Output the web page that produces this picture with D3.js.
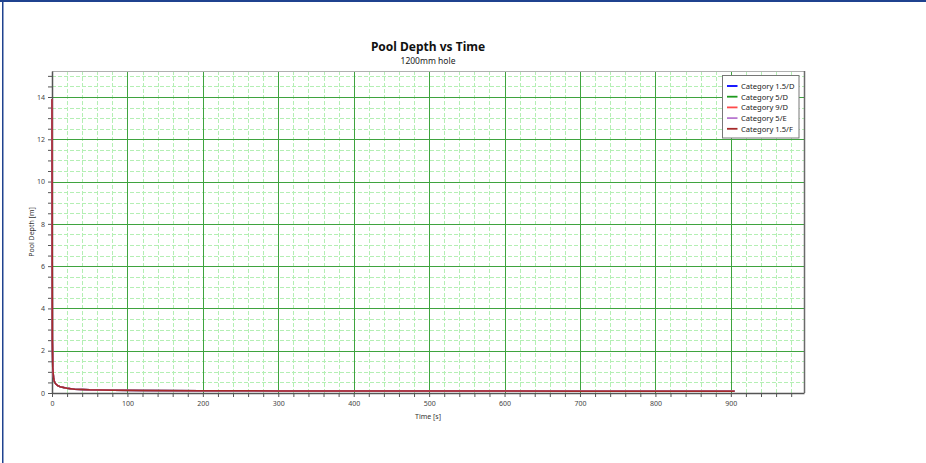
<!DOCTYPE html>
<html><head><meta charset="utf-8">
<script src="https://cdn.jsdelivr.net/npm/d3@7"></script>
<style>
html,body{margin:0;padding:0;background:#fff;}
text{font-family:"Noto Sans","Open Sans",sans-serif;}
</style></head>
<body><svg id="chart" width="926" height="463"></svg>
<script>
// ---- data ----
const seriesNames = ["Category 1.5/D","Category 5/D","Category 9/D","Category 5/E","Category 1.5/F"];
const seriesColors = ["#0000FF","#1E9A1E","#FF4A4A","#B878D0","#A52A2A"];
const timeS = [0, 0.5, 1, 2, 3, 5, 8, 12, 20, 30, 50, 80, 120, 200, 300, 400, 500, 600, 700, 800, 905];
const depth15D = [13.9, 2.5, 1.2, 0.75, 0.55, 0.42, 0.34, 0.28, 0.22, 0.18, 0.15, 0.13, 0.12, 0.11, 0.1, 0.095, 0.09, 0.09, 0.085, 0.085, 0.08];
const depth5D  = [13.9, 2.5, 1.2, 0.75, 0.55, 0.42, 0.34, 0.28, 0.22, 0.18, 0.15, 0.13, 0.12, 0.11, 0.1, 0.095, 0.09, 0.09, 0.085, 0.085, 0.08];
const depth9D  = [13.9, 2.5, 1.2, 0.75, 0.55, 0.42, 0.34, 0.28, 0.22, 0.18, 0.15, 0.13, 0.12, 0.11, 0.1, 0.095, 0.09, 0.09, 0.085, 0.085, 0.08];
const depth5E  = [13.9, 2.5, 1.2, 0.75, 0.55, 0.42, 0.34, 0.28, 0.22, 0.18, 0.15, 0.13, 0.12, 0.11, 0.1, 0.095, 0.09, 0.09, 0.085, 0.085, 0.08];
const depth15F = [13.9, 2.5, 1.2, 0.75, 0.55, 0.42, 0.34, 0.28, 0.22, 0.18, 0.15, 0.13, 0.12, 0.11, 0.1, 0.095, 0.09, 0.09, 0.085, 0.085, 0.08];
const seriesValues = [depth15D, depth5D, depth9D, depth5E, depth15F];
const xTickLabels = [0,100,200,300,400,500,600,700,800,900];
const yTickLabels = [0,2,4,6,8,10,12,14];
const xDomain = [0, 997];
const yDomain = [0, 15.23];

// ---- layout ----
const svg = d3.select("#chart");
const L = 52, R = 804, T = 71, B = 393;
const x = d3.scaleLinear().domain(xDomain).range([L, R]);
const y = d3.scaleLinear().domain(yDomain).range([B, T]);

// frame
svg.append("rect").attr("x",0).attr("y",0).attr("width",926).attr("height",2).attr("fill","#1F428F");
svg.append("rect").attr("x",2).attr("y",0).attr("width",1.5).attr("height",463).attr("fill","#1F428F");

// minor grid
const xMinor = d3.range(0, xDomain[1], 20).filter(v => v % 100 !== 0);
const yMinor = d3.range(0, yDomain[1], 0.5).filter(v => Math.abs(v % 2) > 1e-9);
const g = svg.append("g");
g.selectAll("line.vx").data(xMinor).join("line").attr("class","vx")
  .attr("x1", d => Math.round(x(d))+0.5).attr("x2", d => Math.round(x(d))+0.5)
  .attr("y1", T).attr("y2", B)
  .attr("stroke","#B4EFB4").attr("stroke-width",1).attr("stroke-dasharray","4,2");
g.selectAll("line.hy").data(yMinor).join("line").attr("class","hy")
  .attr("y1", d => Math.round(y(d))+0.5).attr("y2", d => Math.round(y(d))+0.5)
  .attr("x1", L).attr("x2", R)
  .attr("stroke","#B4EFB4").attr("stroke-width",1).attr("stroke-dasharray","4,2");
// major grid
g.selectAll("line.vX").data(xTickLabels.filter(v => v>0)).join("line").attr("class","vX")
  .attr("x1", d => Math.round(x(d))+0.5).attr("x2", d => Math.round(x(d))+0.5)
  .attr("y1", T).attr("y2", B)
  .attr("stroke","#3FA33F").attr("stroke-width",1);
g.selectAll("line.hY").data(yTickLabels.filter(v => v>0)).join("line").attr("class","hY")
  .attr("y1", d => Math.round(y(d))+0.5).attr("y2", d => Math.round(y(d))+0.5)
  .attr("x1", L).attr("x2", R)
  .attr("stroke","#3FA33F").attr("stroke-width",1);

// plot border top/right
svg.append("line").attr("x1",L).attr("x2",R).attr("y1",T+0.5).attr("y2",T+0.5).attr("stroke","#B0B0B0");
svg.append("line").attr("x1",R+0.5).attr("x2",R+0.5).attr("y1",T).attr("y2",B).attr("stroke","#6A6A6A").attr("stroke-width",1.5);

// axes
const xAxis = d3.axisBottom(x).tickValues(d3.range(0, xDomain[1], 20))
  .tickFormat(d => xTickLabels.includes(d) ? d : "").tickSize(4).tickSizeOuter(0);
const gx = svg.append("g").attr("transform",`translate(0,${B})`).call(xAxis);
gx.select(".domain").attr("stroke","#555").attr("stroke-width",1.5);
gx.selectAll(".tick line").attr("stroke","#555");
gx.selectAll(".tick text").attr("font-size","7px").style("fill","#444").attr("dy","0.9em");

const yAxis = d3.axisLeft(y).tickValues(d3.range(0, yDomain[1], 0.5))
  .tickFormat(d => yTickLabels.includes(d) ? d : "").tickSize(4).tickSizeOuter(0);
const gy = svg.append("g").attr("transform",`translate(${L},0)`).call(yAxis);
gy.select(".domain").attr("stroke","#555").attr("stroke-width",1.5);
gy.selectAll(".tick line").attr("stroke","#555");
gy.selectAll(".tick text").attr("font-size","7px").style("fill","#444").attr("x",-7);

// series
const line = d3.line().x((d,i) => x(timeS[i])).y(d => y(d));
seriesValues.forEach((vals, k) => {
  svg.append("path").datum(vals).attr("d", line)
    .attr("fill","none").attr("stroke", seriesColors[k]).attr("stroke-width",1.5);
});

// titles
svg.append("text").attr("x",428).attr("y",51).attr("text-anchor","middle")
  .attr("font-size","12px").attr("font-weight","bold").style("fill","#111").text("Pool Depth vs Time");
svg.append("text").attr("x",428).attr("y",64).attr("text-anchor","middle")
  .attr("font-size","8.5px").style("fill","#222").text("1200mm hole");
svg.append("text").attr("x",428).attr("y",419).attr("text-anchor","middle")
  .attr("font-size","7px").style("fill","#333").text("Time [s]");
svg.append("text").attr("transform",`translate(34,${(T+B)/2}) rotate(-90)`).attr("text-anchor","middle")
  .attr("font-size","7px").style("fill","#333").text("Pool Depth [m]");

// legend
const lg = svg.append("g");
lg.append("rect").attr("x",722.5).attr("y",75.5).attr("width",76.5).attr("height",62.5)
  .attr("fill","#fff").attr("stroke","#777").attr("stroke-width",1);
seriesNames.forEach((n,k) => {
  const yy = 86 + k*10.7;
  lg.append("line").attr("x1",727).attr("x2",737.5).attr("y1",yy).attr("y2",yy)
    .attr("stroke",seriesColors[k]).attr("stroke-width",1.8);
  lg.append("text").attr("x",741).attr("y",yy+2.8).attr("font-size","7.6px").style("fill","#222").text(n);
});
</script></body></html>
